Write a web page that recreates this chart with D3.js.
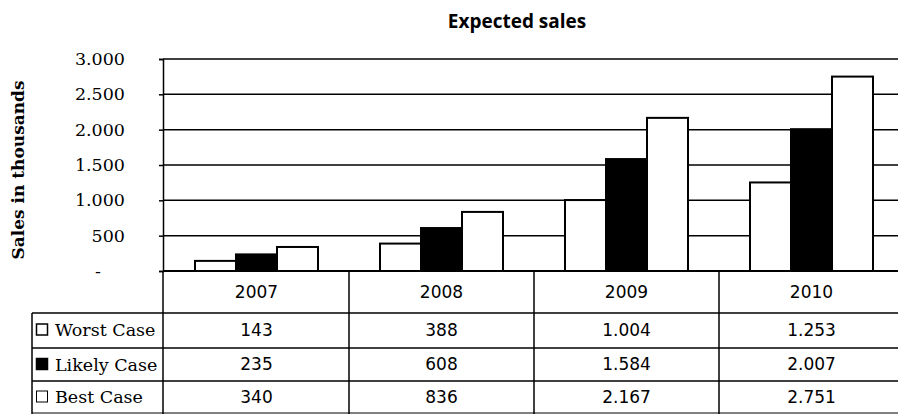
<!DOCTYPE html>
<html>
<head>
<meta charset="utf-8">
<script src="https://cdn.jsdelivr.net/npm/d3@7"></script>
<style>
  html, body { margin: 0; padding: 0; background: #fff; }
  svg { display: block; }
</style>
</head>
<body>
<svg id="chart" width="898" height="414"></svg>
<script>
// Chart data
const years = ["2007", "2008", "2009", "2010"];
const seriesNames = ["Worst Case", "Likely Case", "Best Case"];
const worstCase = [143, 388, 1004, 1253];
const likelyCase = [235, 608, 1584, 2007];
const bestCase = [340, 836, 2167, 2751];
const yTicks = [0, 500, 1000, 1500, 2000, 2500, 3000];
const seriesFills = ["#fff", "#000", "#fff"];

const seriesValues = [worstCase, likelyCase, bestCase];

const svg = d3.select("#chart");

// German-style number formatting (dot as thousands separator)
const locale = d3.formatLocale({ decimal: ",", thousands: ".", grouping: [3], currency: ["", " €"] });
const fmt = locale.format(",d");

const plotLeft = 163, plotTop = 59, plotBottom = 271;
const tableLeft = 32, rightEdge = 898;
const rowLines = [313, 348, 381, 413];

const x = d3.scaleBand().domain(years).range([plotLeft + 1, plotLeft + 1 + 4 * 185]).padding(0);
const xInner = d3.scaleBand().domain(seriesNames).range([31, 154]).padding(0);
const y = d3.scaleLinear().domain([0, 3000]).range([plotBottom, plotTop]);

const serif = "'DejaVu Serif', serif";
const sans = "'DejaVu Sans', sans-serif";

// Title
svg.append("text")
  .attr("x", 517).attr("y", 28)
  .attr("text-anchor", "middle")
  .attr("font-family", "'Open Sans', sans-serif")
  .attr("font-weight", "bold")
  .attr("font-size", "19px")
  .text("Expected sales");

// Y-axis title
svg.append("text")
  .attr("transform", "translate(24,170) rotate(-90)")
  .attr("text-anchor", "middle")
  .attr("font-family", serif)
  .attr("font-weight", "bold")
  .attr("font-size", "17px")
  .text("Sales in thousands");

// Gridlines
svg.append("g")
  .selectAll("line")
  .data(yTicks.filter(d => d > 0))
  .join("line")
  .attr("x1", plotLeft).attr("x2", rightEdge)
  .attr("y1", d => y(d)).attr("y2", d => y(d))
  .attr("stroke", "#000").attr("stroke-width", 1.5);

// Y axis
const yAxis = d3.axisLeft(y)
  .tickValues(yTicks)
  .tickSize(4)
  .tickPadding(34)
  .tickFormat(d => d === 0 ? "-" : fmt(d));
const gy = svg.append("g").attr("transform", `translate(${plotLeft},0)`).call(yAxis);
gy.attr("font-family", serif).attr("font-size", "17.5px");
gy.select(".domain").attr("stroke", "#000").attr("stroke-width", 1.5);
gy.selectAll(".tick line").attr("stroke", "#000").attr("stroke-width", 1.5);
gy.selectAll(".tick text").attr("fill", "#000");
gy.selectAll(".tick text").filter(d => d === 0).attr("x", -62);

// Bars
const groups = svg.append("g")
  .selectAll("g")
  .data(years)
  .join("g")
  .attr("transform", d => `translate(${x(d)},0)`);

groups.selectAll("rect")
  .data((yr, i) => seriesNames.map((s, j) => ({ s, j, v: seriesValues[j][i] })))
  .join("rect")
  .attr("x", d => xInner(d.s))
  .attr("width", xInner.bandwidth())
  .attr("y", d => y(d.v))
  .attr("height", d => y(0) - y(d.v))
  .attr("fill", d => seriesFills[d.j])
  .attr("stroke", "#000")
  .attr("stroke-width", 2);

// X axis line
svg.append("line")
  .attr("x1", plotLeft).attr("x2", rightEdge)
  .attr("y1", plotBottom).attr("y2", plotBottom)
  .attr("stroke", "#000").attr("stroke-width", 2);

// Data table: vertical dividers
const table = svg.append("g");
const dividers = [plotLeft].concat(years.slice(1).map(d => x(d)));
table.selectAll("line.v")
  .data(dividers)
  .join("line")
  .attr("class", "v")
  .attr("x1", d => d).attr("x2", d => d)
  .attr("y1", plotBottom).attr("y2", 414)
  .attr("stroke", "#000").attr("stroke-width", 1.5);

table.append("line")
  .attr("x1", tableLeft).attr("x2", tableLeft)
  .attr("y1", rowLines[0]).attr("y2", 414)
  .attr("stroke", "#000").attr("stroke-width", 1.5);

table.selectAll("line.h")
  .data(rowLines)
  .join("line")
  .attr("class", "h")
  .attr("x1", tableLeft).attr("x2", rightEdge)
  .attr("y1", d => d).attr("y2", d => d)
  .attr("stroke", "#000").attr("stroke-width", (d, i) => i === 3 ? 1 : 1.5);

// Header row: years
table.selectAll("text.year")
  .data(years)
  .join("text")
  .attr("class", "year")
  .attr("x", d => x(d) + x.bandwidth() / 2)
  .attr("y", 292)
  .attr("dy", "0.35em")
  .attr("text-anchor", "middle")
  .attr("font-family", sans)
  .attr("font-size", "17px")
  .text(d => d);

// Value rows
const rowCenters = [330, 364.5, 397];
seriesNames.forEach((s, j) => {
  table.selectAll(`text.val${j}`)
    .data(seriesValues[j])
    .join("text")
    .attr("class", `val${j}`)
    .attr("x", (d, i) => x(years[i]) + x.bandwidth() / 2)
    .attr("y", rowCenters[j])
    .attr("dy", "0.35em")
    .attr("text-anchor", "middle")
    .attr("font-family", sans)
    .attr("font-size", "17px")
    .text(d => fmt(d));

  // Legend key and series label
  table.append("rect")
    .attr("x", 36.5).attr("y", rowCenters[j] - 6)
    .attr("width", 11).attr("height", 11)
    .attr("fill", seriesFills[j])
    .attr("stroke", "#000").attr("stroke-width", j === 2 ? 1 : 1.5);
  table.append("text")
    .attr("x", 55).attr("y", rowCenters[j])
    .attr("dy", "0.35em")
    .attr("font-family", serif)
    .attr("font-size", "17.5px")
    .text(s);
});
</script>
</body>
</html>
